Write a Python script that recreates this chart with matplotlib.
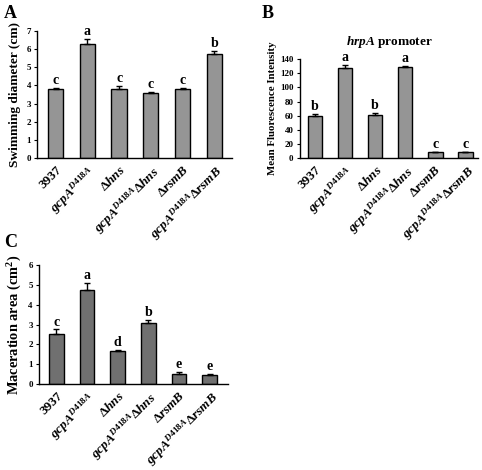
import matplotlib
matplotlib.use("Agg")
import matplotlib.pyplot as plt
import numpy as np

plt.rcParams['font.family'] = ['Liberation Serif', 'DejaVu Serif']
plt.rcParams['font.weight'] = 'bold'
plt.rcParams['mathtext.fontset'] = 'custom'
plt.rcParams['mathtext.rm'] = 'Liberation Serif:bold'
plt.rcParams['mathtext.it'] = 'Liberation Serif:italic:bold'
plt.rcParams['mathtext.bf'] = 'Liberation Serif:bold'

strains = ['3937', r'$\mathit{gcpA^{D418A}}$', r'$\Delta\mathit{hns}$',
           r'$\mathit{gcpA^{D418A}}\Delta\mathit{hns}$', r'$\Delta\mathit{rsmB}$',
           r'$\mathit{gcpA^{D418A}}\Delta\mathit{rsmB}$']

swim_vals = [3.8, 6.3, 3.82, 3.6, 3.8, 5.75]
swim_err = [0.08, 0.28, 0.15, 0.05, 0.08, 0.15]
swim_letters = ['c', 'a', 'c', 'c', 'c', 'b']

fluor_vals = [60, 128, 61, 129, 8, 8]
fluor_err = [3, 4, 3, 2, 1, 1]
fluor_letters = ['b', 'a', 'b', 'a', 'c', 'c']

mac_vals = [2.5, 4.75, 1.65, 3.1, 0.5, 0.45]
mac_err = [0.25, 0.35, 0.07, 0.15, 0.13, 0.07]
mac_letters = ['c', 'a', 'd', 'b', 'e', 'e']

fig = plt.figure(figsize=(4.82, 4.70), dpi=100)


def panel(rect, vals, errs, letters, ylim, yticks, ylabel, color, xlim, ylabsize, labx):
    ax = fig.add_axes(rect)
    x = np.arange(len(vals))
    ax.bar(x, vals, width=0.48, color=color, edgecolor='black', linewidth=1.0, zorder=2)
    ax.errorbar(x, vals, yerr=[np.zeros(len(vals)), errs], fmt='none', ecolor='black',
                elinewidth=1.0, capsize=2, capthick=1.0, zorder=3)
    for xi, v, e, l in zip(x, vals, errs, letters):
        ax.annotate(l, (xi, v + e), xytext=(0, 0.5), textcoords='offset points',
                    ha='center', va='bottom', fontsize=10, fontweight='bold')
    ax.set_xlim(*xlim)
    ax.set_ylim(*ylim)
    ax.set_yticks(yticks)
    ax.set_yticklabels([str(t) for t in yticks], fontsize=6.5, fontweight='bold')
    ax.set_xticks(x)
    ax.set_xticklabels(strains, rotation=45, ha='right', rotation_mode='anchor', fontsize=9.5)
    ax.tick_params(axis='x', length=0, pad=4)
    ax.tick_params(axis='y', length=2.5, width=0.8, pad=2)
    for s in ['top', 'right']:
        ax.spines[s].set_visible(False)
    for s in ['left', 'bottom']:
        ax.spines[s].set_linewidth(1.0)
    ax.set_ylabel(ylabel, fontsize=ylabsize, fontweight='bold', va='center')
    ax.yaxis.set_label_coords(labx, 0.5)
    return ax


axA = panel([0.077, 0.664, 0.404, 0.270], swim_vals, swim_err, swim_letters,
            (0, 7), list(range(0, 8)), 'Swimming diameter (cm)', '#959595',
            (-0.58, 5.55), 9.6, -0.113)
axB = panel([0.622, 0.664, 0.370, 0.210], fluor_vals, fluor_err, fluor_letters,
            (0, 140), list(range(0, 141, 20)), 'Mean Fluorescence Intensity', '#959595',
            (-0.5, 5.42), 7.8, -0.152)
axB.set_title(r'$\mathit{hrpA}$ promoter', fontsize=9.5, fontweight='bold', pad=10)
axC = panel([0.081, 0.183, 0.392, 0.253], mac_vals, mac_err, mac_letters,
            (0, 6), list(range(0, 7)), r'Maceration area (cm$^\mathbf{2}$)', '#707070',
            (-0.57, 5.6), 10.4, -0.127)

fig.text(0.008, 0.972, 'A', fontsize=13, fontweight='bold', va='center')
fig.text(0.543, 0.972, 'B', fontsize=13, fontweight='bold', va='center')
fig.text(0.008, 0.485, 'C', fontsize=13, fontweight='bold', va='center')

fig.savefig('out.png', dpi=100)
